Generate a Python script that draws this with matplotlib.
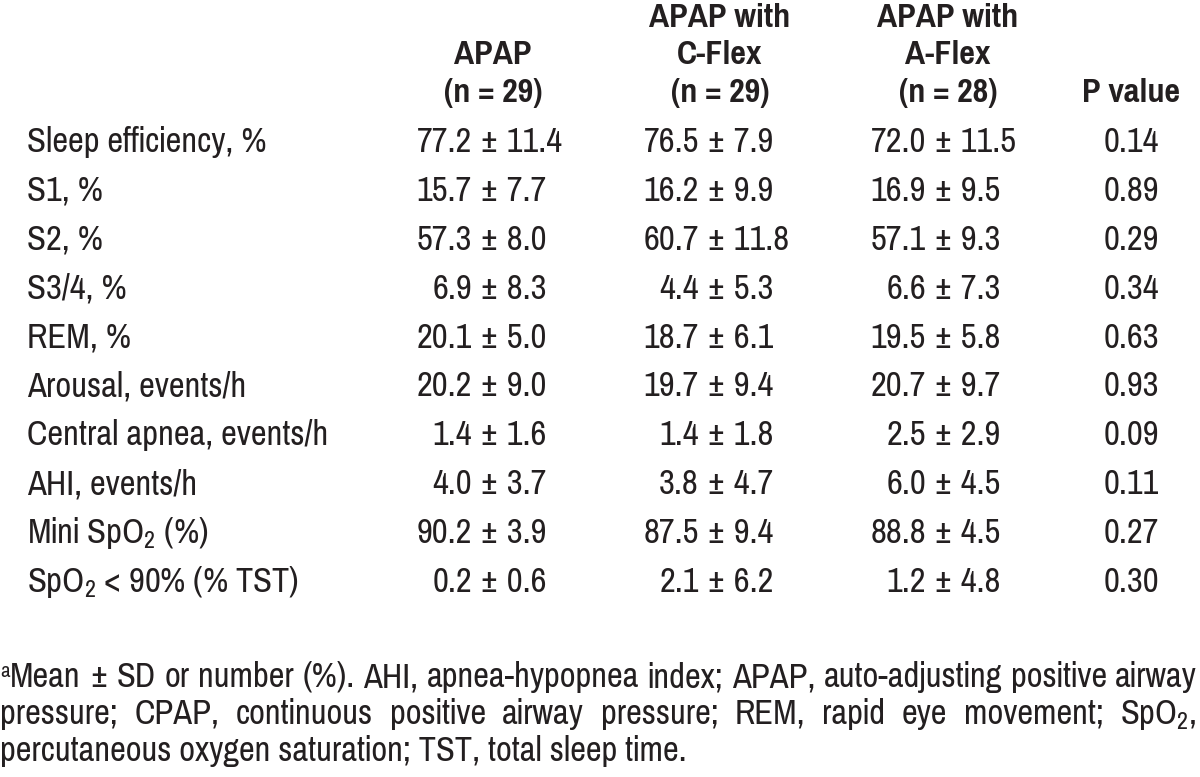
import matplotlib
matplotlib.use("Agg")
import matplotlib.pyplot as plt
from matplotlib import font_manager

# ---- table contents ----
row_labels = ["Sleep efficiency, %", "S1, %", "S2, %", "S3/4, %", "REM, %",
              "Arousal, events/h", "Central apnea, events/h", "AHI, events/h",
              "Mini SpO$_2$ (%)", "SpO$_2$ < 90% (% TST)"]
apap_mean = [77.2, 15.7, 57.3, 6.9, 20.1, 20.2, 1.4, 4.0, 90.2, 0.2]
apap_sd = [11.4, 7.7, 8.0, 8.3, 5.0, 9.0, 1.6, 3.7, 3.9, 0.6]
cflex_mean = [76.5, 16.2, 60.7, 4.4, 18.7, 19.7, 1.4, 3.8, 87.5, 2.1]
cflex_sd = [7.9, 9.9, 11.8, 5.3, 6.1, 9.4, 1.8, 4.7, 9.4, 6.2]
aflex_mean = [72.0, 16.9, 57.1, 6.6, 19.5, 20.7, 2.5, 6.0, 88.8, 1.2]
aflex_sd = [11.5, 9.5, 9.3, 7.3, 5.8, 9.7, 2.9, 4.5, 4.5, 4.8]
p_values = [0.14, 0.89, 0.29, 0.34, 0.63, 0.93, 0.09, 0.11, 0.27, 0.30]

headers = [["APAP", "(n = 29)"],
           ["APAP with", "C-Flex", "(n = 29)"],
           ["APAP with", "A-Flex", "(n = 28)"],
           ["P value"]]

foot_line1 = "Mean ± SD or number (%). AHI, apnea-hypopnea index; APAP, auto-adjusting positive airway"
foot_line2 = "pressure; CPAP, continuous positive airway pressure; REM, rapid eye movement; SpO$_2$,"
foot_line3 = "percutaneous oxygen saturation; TST, total sleep time."

# ---- font: a narrow grotesque with a real bold face ----
weights = {}
for f in font_manager.fontManager.ttflist:
    if f.style == "normal":
        weights.setdefault(f.name, set()).add(f.weight)


def has_reg_bold(name):
    w = weights.get(name, set())
    return (400 in w or "normal" in w or "regular" in w) and (700 in w or "bold" in w)


fam = "Liberation Sans"
for cand in ["Nimbus Sans Narrow", "Liberation Sans Narrow", "Arial Narrow",
             "Pragati Narrow", "Archivo Narrow", "PT Sans Narrow",
             "Fira Sans Condensed", "Roboto Condensed", "IBM Plex Sans Condensed"]:
    if has_reg_bold(cand):
        fam = cand
        break
plt.rcParams["font.family"] = [fam, "DejaVu Sans"]
plt.rcParams["mathtext.fontset"] = "custom"
plt.rcParams["mathtext.rm"] = fam
plt.rcParams["mathtext.it"] = fam
plt.rcParams["mathtext.bf"] = fam + ":bold"
plt.rcParams["mathtext.default"] = "regular"

TXT = "#231f20"

fig = plt.figure(figsize=(12, 7.77), dpi=100)
ax = fig.add_axes([0, 0, 1, 1])
ax.set_xlim(0, 1200)
ax.set_ylim(777, 0)
ax.axis("off")
renderer = fig.canvas.get_renderer()


def fit_size(s, target_px, weight="normal"):
    t = ax.text(0, 0, s, fontsize=20, fontweight=weight)
    w = t.get_window_extent(renderer).width
    t.remove()
    return 20 * target_px / w


BODY = 0.5 * (fit_size("Central apnea, events/h", 303) + fit_size("77.2 ± 11.4", 144))
HEAD = fit_size("P value", 98, "bold")
FOOT = fit_size(foot_line3, 685)

# header
hdr_centers = [493, 720, 948, 1131]
hdr_base = [27, 64, 102]
for cx, lines in zip(hdr_centers, headers):
    start = len(hdr_base) - len(lines)
    for k, line in enumerate(lines):
        ax.text(cx, hdr_base[start + k], line, ha="center", va="baseline",
                fontsize=HEAD, fontweight="bold", color=TXT)

# body
row_base0 = 152
row_step = 48.9
num_anchor = [472, 699, 926]
groups = [(apap_mean, apap_sd), (cflex_mean, cflex_sd), (aflex_mean, aflex_sd)]
for i, lab in enumerate(row_labels):
    yb = row_base0 + i * row_step
    ax.text(27, yb, lab, ha="left", va="baseline", fontsize=BODY, color=TXT)
    for xa, (m, s) in zip(num_anchor, groups):
        ax.text(xa, yb, f"{m[i]:.1f}", ha="right", va="baseline", fontsize=BODY, color=TXT)
        ax.text(xa, yb, f" ± {s[i]:.1f}", ha="left", va="baseline", fontsize=BODY, color=TXT)
    ax.text(1131, yb, f"{p_values[i]:.2f}", ha="center", va="baseline", fontsize=BODY, color=TXT)


# footnote, first two lines justified to the full width
def justify(line, x0, x1, yb):
    words = line.split(" ")
    objs = [ax.text(0, yb, w, ha="left", va="baseline", fontsize=FOOT, color=TXT) for w in words]
    widths = [o.get_window_extent(renderer).width for o in objs]
    gap = (x1 - x0 - sum(widths)) / (len(words) - 1)
    x = x0
    for o, w in zip(objs, widths):
        o.set_x(x)
        x += w + gap


ax.text(0, 677, "a", ha="left", va="baseline", fontsize=FOOT * 0.6, color=TXT)
justify(foot_line1, 10, 1197, 687)
justify(foot_line2, 0, 1197, 724)
ax.text(0, 761, foot_line3, ha="left", va="baseline", fontsize=FOOT, color=TXT)

fig.savefig("out.png", dpi=100, facecolor="white")
